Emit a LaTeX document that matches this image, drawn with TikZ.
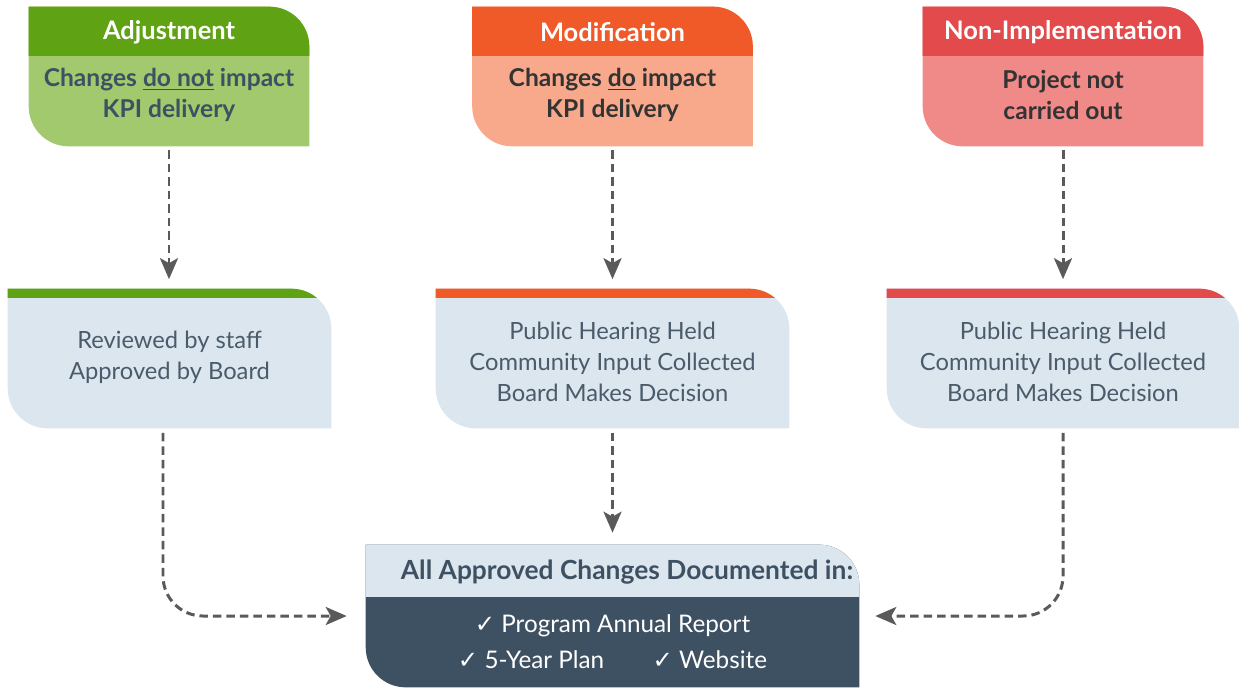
\documentclass[tikz,border=0pt]{standalone}
\usepackage{fontspec}
\setmainfont{Lato}
\newfontfamily\symfont{DejaVu Sans}
\usetikzlibrary{arrows.meta}

\definecolor{adjdark}{HTML}{5FA314}
\definecolor{adjlight}{HTML}{A3C96E}
\definecolor{moddark}{HTML}{F05A28}
\definecolor{modlight}{HTML}{F8A98B}
\definecolor{nondark}{HTML}{E34A4B}
\definecolor{nonlight}{HTML}{F08A88}
\definecolor{card}{HTML}{DCE6EE}
\definecolor{slate}{HTML}{3E5163}
\definecolor{slatetxt}{HTML}{4A5B6B}
\definecolor{ink}{HTML}{333333}
\definecolor{flowgrey}{HTML}{5A5A5A}

\newcommand\tick{{\symfont ✓}}

% filled card, top right and bottom left corners rounded
\newcommand\tabfill[3][0.8cm]{%
  \fill[#3] (#2.north west) -- ([xshift=-#1]#2.north east) arc[start angle=90,end angle=0,radius=#1]
    -- (#2.south east) -- ([xshift=#1]#2.south west) arc[start angle=270,end angle=180,radius=#1] -- cycle;}
\newcommand\tabband[3]{%
  \begin{scope}
    \clip (#1.north west) rectangle ([yshift=-#2]#1.north east);
    \tabfill{#1}{#3}
  \end{scope}}

\begin{document}
\begin{tikzpicture}[x=0.02cm,y=0.02cm,
    panel/.style={inner sep=0pt,minimum height=2.78cm},
    head/.style={text=white,font=\bfseries\fontsize{14.5}{16}\selectfont},
    kpi/.style={align=center,font=\bfseries\fontsize{14}{17.5}\selectfont},
    review/.style={align=center,text=slatetxt,font=\fontsize{13.5}{17.6}\selectfont},
    flow/.style={draw=flowgrey,line width=1.7pt,dash pattern=on 0.17cm off 0.1cm,
      -{Stealth[length=0.42cm,width=0.36cm,inset=0.1cm]}}]

    \useasboundingbox (0,0) rectangle (1239,-687);

    \node[panel,minimum width=5.6cm] (adj) at (169,-76.5) {};
    \node[panel,minimum width=5.6cm] (mod) at (612.5,-76.5) {};
    \node[panel,minimum width=5.6cm] (non) at (1063,-76.5) {};
    \node[panel,minimum width=6.46cm] (adjrev) at (169.5,-358.5) {};
    \node[panel,minimum width=7.06cm] (modrev) at (612.5,-358.5) {};
    \node[panel,minimum width=7.04cm] (nonrev) at (1063,-358.5) {};
    \node[panel,minimum width=9.86cm,minimum height=2.84cm] (docs) at (612.5,-616) {};

    \tabfill{adj}{adjlight}   \tabband{adj}{0.98cm}{adjdark}
    \tabfill{mod}{modlight}   \tabband{mod}{0.98cm}{moddark}
    \tabfill{non}{nonlight}   \tabband{non}{0.98cm}{nondark}
    \tabfill{adjrev}{card}    \tabband{adjrev}{0.17cm}{adjdark}
    \tabfill{modrev}{card}    \tabband{modrev}{0.17cm}{moddark}
    \tabfill{nonrev}{card}    \tabband{nonrev}{0.17cm}{nondark}
    \tabfill{docs}{slate}     \tabband{docs}{1.04cm}{card}

    \node[head] (adjtitle) at (169,-32) {Adjustment};
    \node[head] (modtitle) at (612.5,-32) {Modification};
    \node[head] (nontitle) at (1063,-32) {Non-Implementation};
    \node[kpi,text=slate] (adjnote) at (169,-95) {Changes \underline{do not} impact\\KPI delivery};
    \node[kpi,text=ink] (modnote) at (612.5,-95) {Changes \underline{do} impact\\KPI delivery};
    \node[kpi,text=ink] (nonnote) at (1063,-95) {Project not\\carried out};

    \node[review] (adjsteps) at (169.5,-357.5) {Reviewed by staff\\Approved by Board};
    \node[review] (modsteps) at (612.5,-362) {Public Hearing Held\\Community Input Collected\\Board Makes Decision};
    \node[review] (nonsteps) at (1063,-362) {Public Hearing Held\\Community Input Collected\\Board Makes Decision};

    \node[text=slate,font=\bfseries\fontsize{15}{16}\selectfont] (docstitle) at (627,-572) {All Approved Changes Documented in:};
    \node[text=white,align=center,font=\fontsize{13.8}{20.5}\selectfont] (docslist) at (612.5,-642)
      {\tick\ Program Annual Report\\\tick\ 5-Year Plan\qquad\tick\ Website};

    \draw[flow,shorten <=0.08cm,shorten >=0.19cm] (adj.south) -- (adj.south |- adjrev.north);
    \draw[flow,shorten <=0.08cm,shorten >=0.19cm] (mod.south) -- (mod.south |- modrev.north);
    \draw[flow,shorten <=0.08cm,shorten >=0.19cm] (non.south) -- (non.south |- nonrev.north);
    \draw[flow,shorten <=0.09cm,shorten >=0.24cm] (modrev.south) -- (docs.north);
    \draw[flow,rounded corners=0.8cm,shorten <=0.09cm,shorten >=0.38cm] ([xshift=-0.13cm]adjrev.south) |- (docs.west);
    \draw[flow,rounded corners=0.8cm,shorten <=0.09cm,shorten >=0.32cm] (nonrev.south) |- (docs.east);
\end{tikzpicture}
\end{document}
